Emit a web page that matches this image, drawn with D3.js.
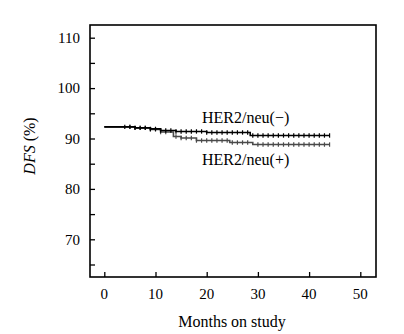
<!DOCTYPE html>
<html><head><meta charset="utf-8">
<script src="https://cdn.jsdelivr.net/npm/d3@7"></script>
<style>body{margin:0;background:#fff}svg{display:block}</style>
</head><body><svg id="c" width="404" height="334" font-family="'Liberation Serif', 'DejaVu Serif', serif"></svg>
<script>
const xTicks = [0, 10, 20, 30, 40, 50];
const yTicks = [70, 80, 90, 100, 110];
const yMinor = [65, 75, 85, 95, 105];
const negTimes = [0, 6, 9, 11, 14, 20, 28.5, 44];
const negValues = [92.3, 92.1, 91.9, 91.6, 91.4, 91.2, 90.6, 90.6];
const posTimes = [0, 6, 9, 11, 13.5, 15, 18, 24.5, 29, 44];
const posValues = [92.3, 92.1, 91.8, 91.3, 90.4, 90.1, 89.6, 89.2, 88.8, 88.8];
const negCensor = [4,5,6,7,8,9,10,11,12,13,14,15,16,17,18,19,20,21,22,23,24,25,26,27,28,29,30,31,32,33,34,35,36,37,38,39,40,41,42,43,44];
const posCensor = [5,6,7,8,9,10,11,12,14,15,16,17,18,19,20,21,22,23,24,25,26,27,28,30,31,32,33,34,35,36,37,38,39,40,41,42,43,44];
const labels = ["HER2/neu(\u2212)", "HER2/neu(+)"];

const svg = d3.select("#c");
const frame = {l: 90, r: 376, t: 25, b: 277};
const x = d3.scaleLinear().domain([0, 50]).range([104.3, 360.3]);
const y = d3.scaleLinear().domain([70, 110]).range([239.3, 37.7]);

svg.append("rect").attr("x", frame.l).attr("y", frame.t)
  .attr("width", frame.r - frame.l).attr("height", frame.b - frame.t)
  .attr("fill", "none").attr("stroke", "#000").attr("stroke-width", 1.6);

const xAxis = d3.axisTop(x).tickValues(xTicks).tickSize(5).tickFormat("");
const gx = svg.append("g").attr("transform", `translate(0,${frame.b})`).call(xAxis);
gx.select(".domain").remove();
gx.selectAll("line").attr("stroke", "#000").attr("stroke-width", 1.3);
svg.append("g").selectAll("text").data(xTicks).join("text")
  .attr("x", d => x(d)).attr("y", 299).attr("text-anchor", "middle")
  .attr("font-size", 15).attr("fill", "#000").text(d => d);

const yAxis = d3.axisRight(y).tickValues(yTicks.concat(yMinor)).tickSize(5).tickFormat("");
const gy = svg.append("g").attr("transform", `translate(${frame.l},0)`).call(yAxis);
gy.select(".domain").remove();
gy.selectAll("line").attr("stroke", "#000").attr("stroke-width", 1.3);
svg.append("g").selectAll("text").data(yTicks).join("text")
  .attr("x", 80).attr("y", d => y(d)).attr("dy", "0.35em").attr("text-anchor", "end")
  .attr("font-size", 15).attr("fill", "#000").text(d => d);

svg.append("text").attr("x", 232).attr("y", 327).attr("text-anchor", "middle")
  .attr("font-size", 16).attr("fill", "#000").text("Months on study");
const yl = svg.append("text").attr("transform", "translate(35,146) rotate(-90)")
  .attr("text-anchor", "middle").attr("font-size", 16).attr("fill", "#000");
yl.append("tspan").attr("font-style", "italic").text("DFS");
yl.append("tspan").text(" (%)");

const line = d3.line().curve(d3.curveStepAfter).x(d => x(d[0])).y(d => y(d[1]));
function stepVal(times, vals, t) {
  let v = vals[0];
  for (let i = 0; i < times.length; i++) if (times[i] <= t) v = vals[i];
  return v;
}
const series = [
  {times: posTimes, vals: posValues, censor: posCensor, color: "#4a4a4a"},
  {times: negTimes, vals: negValues, censor: negCensor, color: "#000"}
];
series.forEach(s => {
  const pts = s.times.map((t, i) => [t, s.vals[i]]);
  svg.append("path").datum(pts).attr("d", line)
    .attr("fill", "none").attr("stroke", s.color).attr("stroke-width", 1.6);
  svg.append("g").selectAll("line").data(s.censor).join("line")
    .attr("x1", d => x(d)).attr("x2", d => x(d))
    .attr("y1", d => y(stepVal(s.times, s.vals, d)) - 2.2)
    .attr("y2", d => y(stepVal(s.times, s.vals, d)) + 2.2)
    .attr("stroke", s.color).attr("stroke-width", 1.2);
});

svg.append("text").attr("x", 202).attr("y", 122.5).attr("font-size", 16).attr("fill", "#000").text(labels[0]);
svg.append("text").attr("x", 202).attr("y", 164.5).attr("font-size", 16).attr("fill", "#000").text(labels[1]);
</script></body></html>
